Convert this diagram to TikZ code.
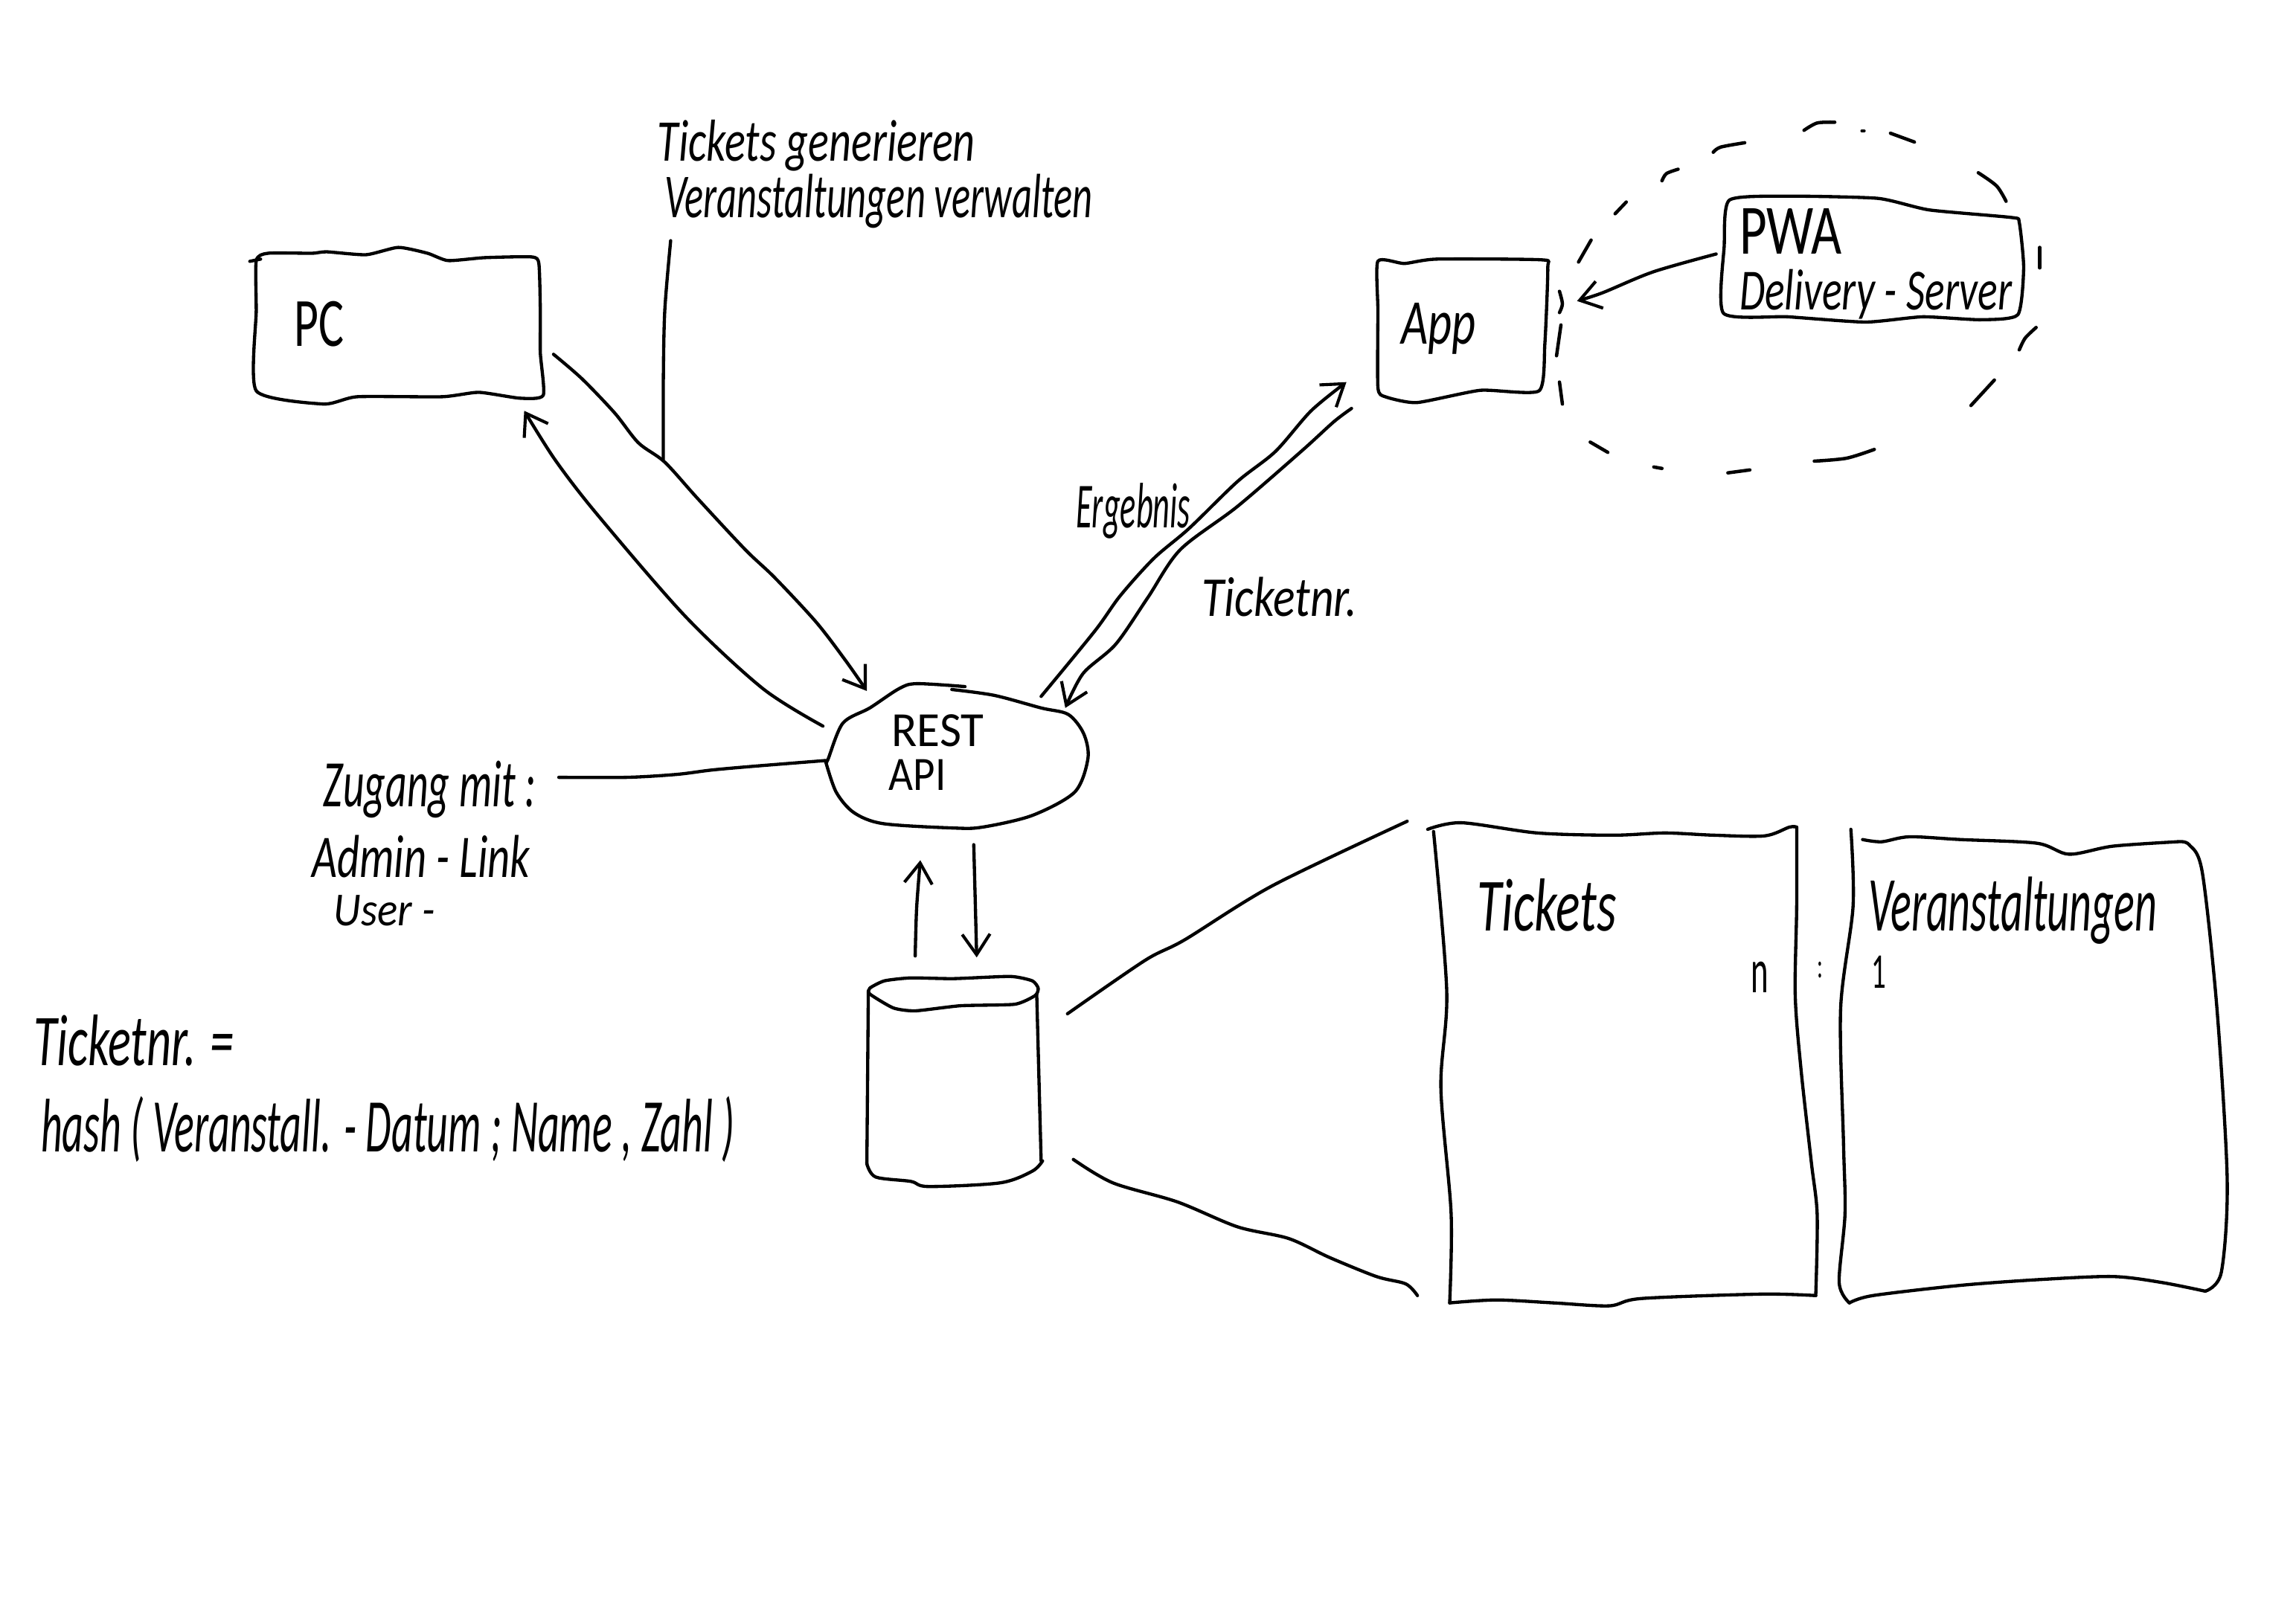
\documentclass[tikz,border=0pt]{standalone}
\usepackage{fontspec}
\usepackage{graphicx}
\setmainfont{Carlito}
\usetikzlibrary{arrows.meta}
\tikzset{
  sk/.style={line width=2.2pt,line cap=round,line join=round,black},
  dsh/.style={line width=2.3pt,line cap=round,line join=round,black},
  barb/.style={-{Straight Barb[length=14pt,width=19pt,line width=2.1pt]}},
  txt/.style={inner sep=0pt,outer sep=0pt,text=black},
  wob/.style={smooth,tension=.5},
  wobc/.style={smooth cycle,tension=.35}
}
\newcommand{\hand}[6]{\node[txt] (#1) at (#2,#3) {\resizebox*{#4pt}{#5pt}{#6}};}
\begin{document}
\begin{tikzpicture}[x=1pt,y=-1pt]
\useasboundingbox (0,0) rectangle (1568,1108.6);
% named connector ends
\coordinate (pcout) at (378,242);
\coordinate (apiinA) at (592,472);
\coordinate (apioutA) at (562,496);
\coordinate (pcin) at (358,280.6);
\coordinate (noteT) at (458,164.4);
\coordinate (noteB) at (453,313.6);
\coordinate (apioutB) at (711,475.7);
\coordinate (appin) at (919.5,261);
\coordinate (appout) at (923,279);
\coordinate (apiinB) at (727.5,483.6);
\coordinate (pwaout) at (1172,173.5);
\coordinate (ringin) at (1077,205.6);
\coordinate (zugR) at (381.6,531);
\coordinate (apiL) at (564,519.5);
\coordinate (dbup) at (625,653);
\coordinate (apiB1) at (628.5,587.6);
\coordinate (apiB2) at (665,577);
\coordinate (dbdown) at (667,654);
\coordinate (dbT) at (729,692.5);
\coordinate (tabT) at (961,561);
\coordinate (dbB) at (733,792);
\coordinate (tabB) at (968,885);
% PC
\draw[sk] plot[wobc] coordinates {(175,178) (183,173) (213,173) (223,172) (250,174) (272,169) (292,173) (306,178) (331,176) (363,175.5) (368,180) (369,212) (369,241) (371,270) (355,272) (327,268) (302,271) (244,271) (221,276) (175,267) (175,212)};
\draw[sk] (170.6,178.5) -- (178,177);
\hand{pctxt}{218}{221.5}{34}{31}{PC}
% App
\draw[sk] plot[wobc] coordinates {(941,178.4) (959,180) (981,177) (1053,177.5) (1057,183) (1055,235) (1051,267) (1011,266.6) (967.6,275) (946,271) (941,264.6) (941,212)};
\hand{apptxt}{982.5}{224.5}{51}{35}{\itshape App}
% PWA
\draw[sk] plot[wobc] coordinates {(1181,136.7) (1221,134) (1282.5,135.5) (1317.5,143.4) (1374,148.6) (1379,152) (1382,183) (1378,215) (1352.5,218.4) (1313,216.4) (1274,220) (1221,216.4) (1177,214) (1177.5,168)};
\hand{pwa}{1223}{158}{70}{31}{PWA}
\hand{deliv}{1281}{201}{186}{34}{\itshape Delivery - Server}
% dashed ring
\draw[dsh] plot[wob] coordinates {(1065,199) (1067,207.6) (1065,213.5)};
\draw[dsh] (1066,222) -- (1063,243);
\draw[dsh] (1065,261) -- (1067,276);
\draw[dsh] (1086,302) -- (1098,309);
\draw[dsh] (1129.4,319) -- (1135,320);
\draw[dsh] (1180,323) -- (1195,321);
\draw[dsh] plot[wob] coordinates {(1239,315) (1261,313) (1280,307)};
\draw[dsh] (1346,277) -- (1362,259.6);
\draw[dsh] plot[wob] coordinates {(1379,239) (1383,231) (1390.5,223.7)};
\draw[dsh] (1393,169) -- (1393,183);
\draw[dsh] plot[wob] coordinates {(1370,137.5) (1363.5,127) (1351,118)};
\draw[dsh] (1307.4,97) -- (1291,91);
\draw[dsh] (1271.6,89.4) -- (1273,89.4);
\draw[dsh] plot[wob] coordinates {(1232,89) (1241,84) (1253,83.5)};
\draw[dsh] plot[wob] coordinates {(1191.5,97.5) (1175,100.5) (1170,104)};
\draw[dsh] plot[wob] coordinates {(1146,115.6) (1138,118.6) (1135,123.5)};
\draw[dsh] (1110.6,138) -- (1103,146);
\draw[dsh] (1086.6,164) -- (1078,179);
% REST API cloud
\draw[sk] plot[wob] coordinates {(564,520.7) (565.5,518.6) (575.6,494) (594,483.6) (614,470.4) (626,467) (659,469)};
\draw[sk] plot[wob] coordinates {(650,471) (679,475) (711,483.6) (729.5,488) (740,501) (743,518) (734,541) (705,557) (671,565) (651,565.6) (603,562.6) (583,555) (571,541) (564,520.7)};
\hand{rest}{640.5}{499}{63}{22}{REST}
\hand{api}{626.5}{529.5}{39}{21}{API}
% Database
\draw[sk] plot[wobc] coordinates {(594,675) (604,670) (622,668) (651,668.5) (690,667) (705,670) (709,675) (707,680) (693,686) (656,687) (625,690.5) (610,688.5) (594,679)};
\draw[sk] (593,677) -- (592,795);
\draw[sk] plot[wob] coordinates {(592,795) (598,804) (622,807) (634,810.5) (683,808) (705,800) (712,793)};
\draw[sk] (711,793) -- (708,679);
% Tables
\draw[sk] plot[wob] coordinates {(975,566.5) (998,562) (1050,569) (1102,570.5) (1137,569) (1170,570.5) (1205,571) (1222,565) (1227,565)};
\draw[sk] plot[wob] coordinates {(1227,565) (1227,619) (1226,680) (1230,731) (1237,794) (1241,830) (1240,885)};
\draw[sk] plot[wob] coordinates {(1240,885) (1203,884) (1121,887) (1099,892) (1061,890) (1022,888) (990,890)};
\draw[sk] plot[wob] coordinates {(990,890) (991,829) (984,743) (988,677) (979,568)};
\draw[sk] plot[wob] coordinates {(1264,566.5) (1265.5,619) (1257,689) (1259,782) (1260,829) (1256,876) (1263,890)};
\draw[sk] plot[wob] coordinates {(1263,890) (1279,885) (1339,878) (1394,874) (1443,872) (1476,876) (1506,882)};
\draw[sk] plot[wob] coordinates {(1506,882) (1517,869) (1521,806) (1514,689) (1504,596) (1495,577) (1487,575)};
\draw[sk] plot[wob] coordinates {(1487,575) (1443,578) (1413,583.5) (1391,576) (1339,573.5) (1304,571.6) (1285,575) (1272,573.5)};
\hand{tick}{1056.5}{618}{95}{36}{\itshape Tickets}
\hand{verans}{1374.5}{622}{197}{46}{\itshape Veranstaltungen}
\hand{nn}{1202}{667.5}{12}{21}{n}
\hand{colon}{1243}{662.5}{4}{11}{:}
\hand{one}{1283}{664}{10}{22}{1}
% connectors
\draw[sk,barb] plot[wob] coordinates {(pcout) (397.4,258.7) (419.7,282) (436,302.5) (454,315.7) (476.4,340.5) (509,375.5) (529,394.5) (557.4,425) (577.6,451.4) (apiinA)};
\draw[sk,barb] plot[wob] coordinates {(apioutA) (521,470.4) (468,421) (407.5,351) (379,314) (pcin)};
\draw[sk] plot[wob] coordinates {(noteT) (454,212) (453,260) (noteB)};
\draw[sk,barb] plot[wob] coordinates {(apioutB) (747.7,431) (765,407) (788,381.4) (812,361) (845,329) (871,308.4) (895.4,280.6) (appin)};
\draw[sk,barb] plot[wob] coordinates {(appout) (911,288) (889,308) (845,346) (806,375.5) (784,408) (762,440) (739.7,460) (apiinB)};
\draw[sk,barb] plot[wob] coordinates {(pwaout) (1129,185.7) (1094.4,200) (ringin)};
\draw[sk] plot[wob] coordinates {(zugR) (428,531) (462,529) (486,526) (515,523.4) (apiL)};
\draw[sk,barb] plot[wob] coordinates {(dbup) (626,620) (apiB1)};
\draw[sk,barb] plot[wob] coordinates {(apiB2) (666,615) (dbdown)};
\draw[sk] plot[wob] coordinates {(dbT) (782,656) (809,642) (869,605) (tabT)};
\draw[sk] plot[wob] coordinates {(dbB) (760,808) (804,821) (845,838) (880,846) (908,859) (940,872) (960,877) (tabB)};
% labels
\hand{gen}{557.5}{99.5}{217}{35}{\itshape Tickets generieren}
\hand{verw}{600}{137.5}{292}{37}{\itshape Veranstaltungen verwalten}
\hand{erg}{774}{349}{78}{38}{\itshape Ergebnis}
\hand{tnr}{874}{407.5}{106}{27}{\itshape Ticketnr.}
\hand{zug}{293.5}{539.5}{145}{39}{\itshape Zugang mit :}
\hand{adm}{287.5}{585}{149}{29}{\itshape Admin - Link}
\hand{usr}{262.5}{622}{69}{21}{\itshape User -}
\hand{tn}{91.5}{710.5}{137}{35}{\itshape Ticketnr. =}
\hand{hash}{265}{771.5}{474}{45}{\itshape hash ( Veranstall. - Datum ; Name , Zahl )}
\end{tikzpicture}
\end{document}
